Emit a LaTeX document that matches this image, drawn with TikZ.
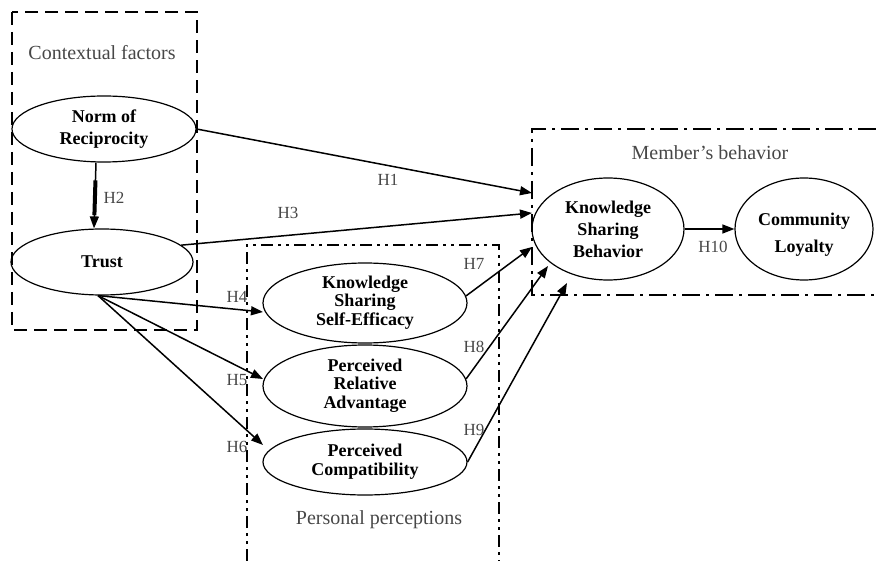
\documentclass[tikz,border=0pt]{standalone}
\usepackage{fontspec}
\setmainfont{Liberation Serif}
\usetikzlibrary{shapes.geometric,arrows.meta,calc}

\tikzset{
  construct/.style={ellipse, draw, line width=1.2pt, inner sep=0pt, align=center,
    font=\bfseries\fontsize{18}{18.5}\selectfont},
  link/.style={line width=1.5pt, -{Triangle[length=12pt,width=9pt]}},
  hyp/.style={font=\fontsize{17}{17}\selectfont, text=black!72, inner sep=0pt},
  grouplabel/.style={font=\fontsize{20}{20}\selectfont, text=black!72, inner sep=0pt},
  ctxbox/.style={line width=2.6pt, dash pattern=on 13pt off 7pt},
  behbox/.style={line width=2.6pt, dash pattern=on 18pt off 6pt on 3pt off 6pt},
  perbox/.style={line width=2.6pt, dash pattern=on 12pt off 5pt on 3pt off 5pt on 3pt off 5pt},
}

\begin{document}
\begin{tikzpicture}[x=1pt, y=-1pt]
  \useasboundingbox (0,0) rectangle (876,561);

  % grouping frames
  \draw[ctxbox] (12,12) rectangle (197,330);
  \draw[behbox] (876,129) -- (532,129) -- (532,295) -- (876,295);
  \draw[perbox] (247,561) -- (247,245) -- (499,245) -- (499,561);

  \node[grouplabel] (ctxlabel) at (102,53) {Contextual factors};
  \node[grouplabel] (behlabel) at (710,153) {Member’s behavior};
  \node[grouplabel] (perlabel) at (379,520) {Personal perceptions};

  % constructs
  \node[construct, minimum width=184, minimum height=66, font=\bfseries\fontsize{18}{22}\selectfont] (norm) at (104,129) {Norm of\\Reciprocity};
  \node[construct, minimum width=182, minimum height=66] (trust) at (102,262) {Trust};
  \node[construct, minimum width=204, minimum height=80] (ksse) at (365,303) {\raisebox{-2pt}{\begin{tabular}{@{}c@{}}Knowledge\\Sharing\\Self-Efficacy\end{tabular}}};
  \node[construct, minimum width=204, minimum height=82] (pra) at (365,386) {\raisebox{-2pt}{\begin{tabular}{@{}c@{}}Perceived\\Relative\\Advantage\end{tabular}}};
  \node[construct, minimum width=204, minimum height=66, font=\bfseries\fontsize{18}{19}\selectfont] (pc) at (365,462) {Perceived\\Compatibility};
  \node[construct, minimum width=152, minimum height=102, font=\bfseries\fontsize{18}{22}\selectfont] (ksb) at (608,229) {Knowledge\\Sharing\\Behavior};
  \node[construct, minimum width=138, minimum height=102, font=\bfseries\fontsize{18}{27}\selectfont] (cl) at (804,229)
    {\raisebox{-8.5pt}[0pt][0pt]{\begin{tabular}{@{}c@{}}Community\\Loyalty\end{tabular}}};

  % arrow ends at the frame edges
  \coordinate (t1) at (532,193);
  \coordinate (t3) at (532,213);
  \coordinate (t4) at (263,312);
  \coordinate (t5) at (263,379);
  \coordinate (t6) at (263,445);
  \coordinate (t7) at (532,247);
  \coordinate (t8) at (548,266);
  \coordinate (t9) at (567,283);

  % hypotheses
  \draw[link] ([xshift=-8pt]norm.south) -- ([xshift=-8pt]trust.north);
  \draw[line width=4pt] ($([xshift=-8pt]norm.south)!0.27!([xshift=-8pt]trust.north)$)
    -- ($([xshift=-8pt]norm.south)!0.8!([xshift=-8pt]trust.north)$);
  \draw[link] (norm.east) -- (t1);
  \draw[link] (trust.12) -- (t3);
  \draw[link] ([xshift=-4pt]trust.south) -- (t4);
  \draw[link] ([xshift=-4pt]trust.south) -- (t5);
  \draw[link] ([xshift=-4pt]trust.south) -- (t6);
  \draw[link] (ksse.4) -- (t7);
  \draw[link] (pra.4) -- (t8);
  \draw[link] (pc.east) -- (t9);
  \draw[link] (ksb.east) -- (cl.west);

  \node[hyp] (h1) at (388,180) {H1};
  \node[hyp] (h2) at (114,198) {H2};
  \node[hyp] (h3) at (288,213) {H3};
  \node[hyp] (h4) at (237,297) {H4};
  \node[hyp] (h5) at (237,380) {H5};
  \node[hyp] (h6) at (237,447) {H6};
  \node[hyp] (h7) at (474,264) {H7};
  \node[hyp] (h8) at (474,347) {H8};
  \node[hyp] (h9) at (474,430) {H9};
  \node[hyp] (h10) at (713,247) {H10};
\end{tikzpicture}
\end{document}
